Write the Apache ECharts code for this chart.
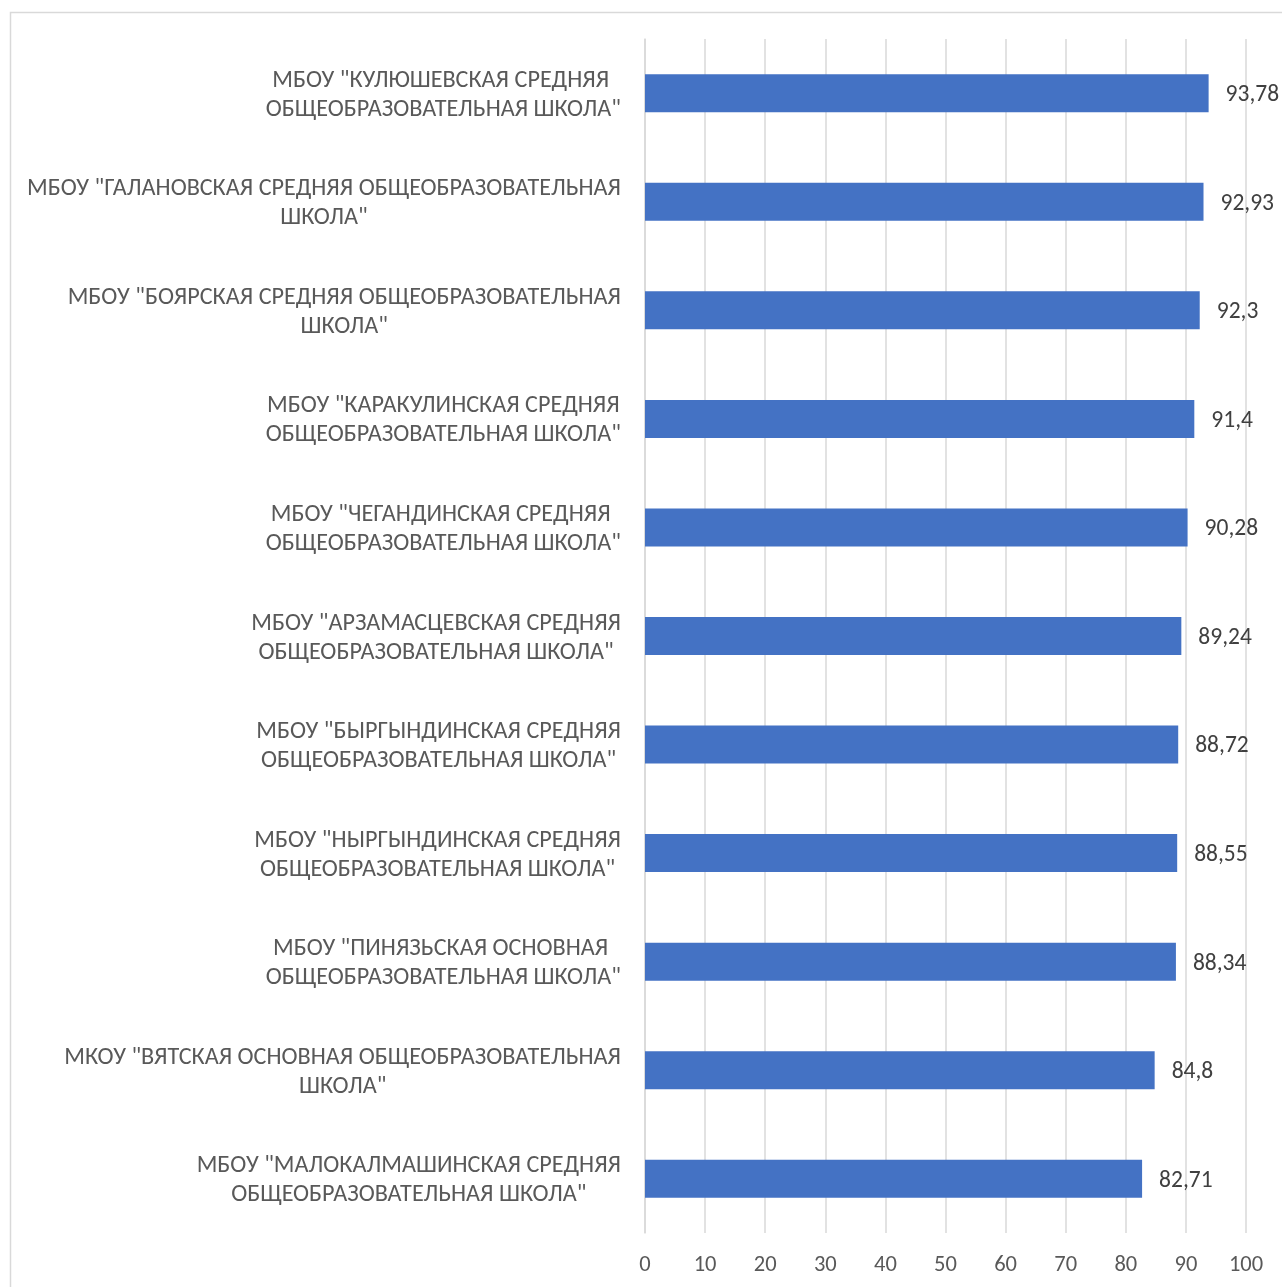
<!DOCTYPE html>
<html><head><meta charset="utf-8">
<script src="https://cdn.jsdelivr.net/npm/echarts@6/dist/echarts.min.js"></script>
<style>html,body{margin:0;padding:0;background:#fff}#c{width:1282px;height:1287px}</style>
</head><body><div id="c"></div>
<script>
const categories = [
  'МБОУ "КУЛЮШЕВСКАЯ СРЕДНЯЯ \nОБЩЕОБРАЗОВАТЕЛЬНАЯ ШКОЛА"',
  'МБОУ "ГАЛАНОВСКАЯ СРЕДНЯЯ ОБЩЕОБРАЗОВАТЕЛЬНАЯ\nШКОЛА"',
  'МБОУ "БОЯРСКАЯ СРЕДНЯЯ ОБЩЕОБРАЗОВАТЕЛЬНАЯ\nШКОЛА"',
  'МБОУ "КАРАКУЛИНСКАЯ СРЕДНЯЯ\nОБЩЕОБРАЗОВАТЕЛЬНАЯ ШКОЛА"',
  'МБОУ "ЧЕГАНДИНСКАЯ СРЕДНЯЯ \nОБЩЕОБРАЗОВАТЕЛЬНАЯ ШКОЛА"',
  'МБОУ "АРЗАМАСЦЕВСКАЯ СРЕДНЯЯ\nОБЩЕОБРАЗОВАТЕЛЬНАЯ ШКОЛА"',
  'МБОУ "БЫРГЫНДИНСКАЯ СРЕДНЯЯ\nОБЩЕОБРАЗОВАТЕЛЬНАЯ ШКОЛА"',
  'МБОУ "НЫРГЫНДИНСКАЯ СРЕДНЯЯ\nОБЩЕОБРАЗОВАТЕЛЬНАЯ ШКОЛА"',
  'МБОУ "ПИНЯЗЬСКАЯ ОСНОВНАЯ \nОБЩЕОБРАЗОВАТЕЛЬНАЯ ШКОЛА"',
  'МКОУ "ВЯТСКАЯ ОСНОВНАЯ ОБЩЕОБРАЗОВАТЕЛЬНАЯ\nШКОЛА"',
  'МБОУ "МАЛОКАЛМАШИНСКАЯ СРЕДНЯЯ\nОБЩЕОБРАЗОВАТЕЛЬНАЯ ШКОЛА"'
];
const values = [93.78, 92.93, 92.3, 91.4, 90.28, 89.24, 88.72, 88.55, 88.34, 84.8, 82.71];
const xTicks = { min: 0, max: 100, interval: 10 };

const FONT = 'Carlito, "Liberation Sans Narrow", "Open Sans", sans-serif';
const chart = echarts.init(document.getElementById('c'), null, { renderer: 'canvas' });
chart.setOption({
  animation: false,
  backgroundColor: '#fff',
  graphic: [{
    type: 'rect', left: 8, top: 10,
    shape: { width: 1290, height: 1290 },
    style: { fill: 'none', stroke: '#d9d9d9', lineWidth: 1.5 }
  }],
  grid: { left: 645, right: 36, top: 39, bottom: 54, containLabel: false },
  xAxis: {
    type: 'value', min: xTicks.min, max: xTicks.max, interval: xTicks.interval,
    axisLine: { show: false }, axisTick: { show: false },
    splitLine: { show: true, lineStyle: { color: '#d9d9d9', width: 1.5 } },
    axisLabel: { color: '#595959', fontSize: 22.5, fontFamily: FONT, margin: 21 }
  },
  yAxis: {
    type: 'category', data: categories, inverse: true,
    axisLine: { show: true, lineStyle: { color: '#d9d9d9', width: 1.5 } },
    axisTick: { show: false },
    axisLabel: {
      color: '#595959', fontSize: 24.2, fontFamily: FONT, margin: 24, lineHeight: 29, align: 'right',
      padding: [4, 0, 0, 0],
      formatter: v => v.split('\n').map(s => '{c|' + s + '}').join('\n'),
      rich: { c: { align: 'center', color: '#595959', fontSize: 24.2, fontFamily: FONT, lineHeight: 29 } }
    }
  },
  series: [{
    type: 'bar', data: values, barCategoryGap: '65%',
    itemStyle: { color: '#4472c4' },
    label: {
      show: true, position: 'right', distance: 17, offset: [0, 2],
      color: '#404040', fontSize: 23.5, fontFamily: FONT,
      formatter: p => String(p.value).replace('.', ',')
    }
  }]
});
</script></body></html>
